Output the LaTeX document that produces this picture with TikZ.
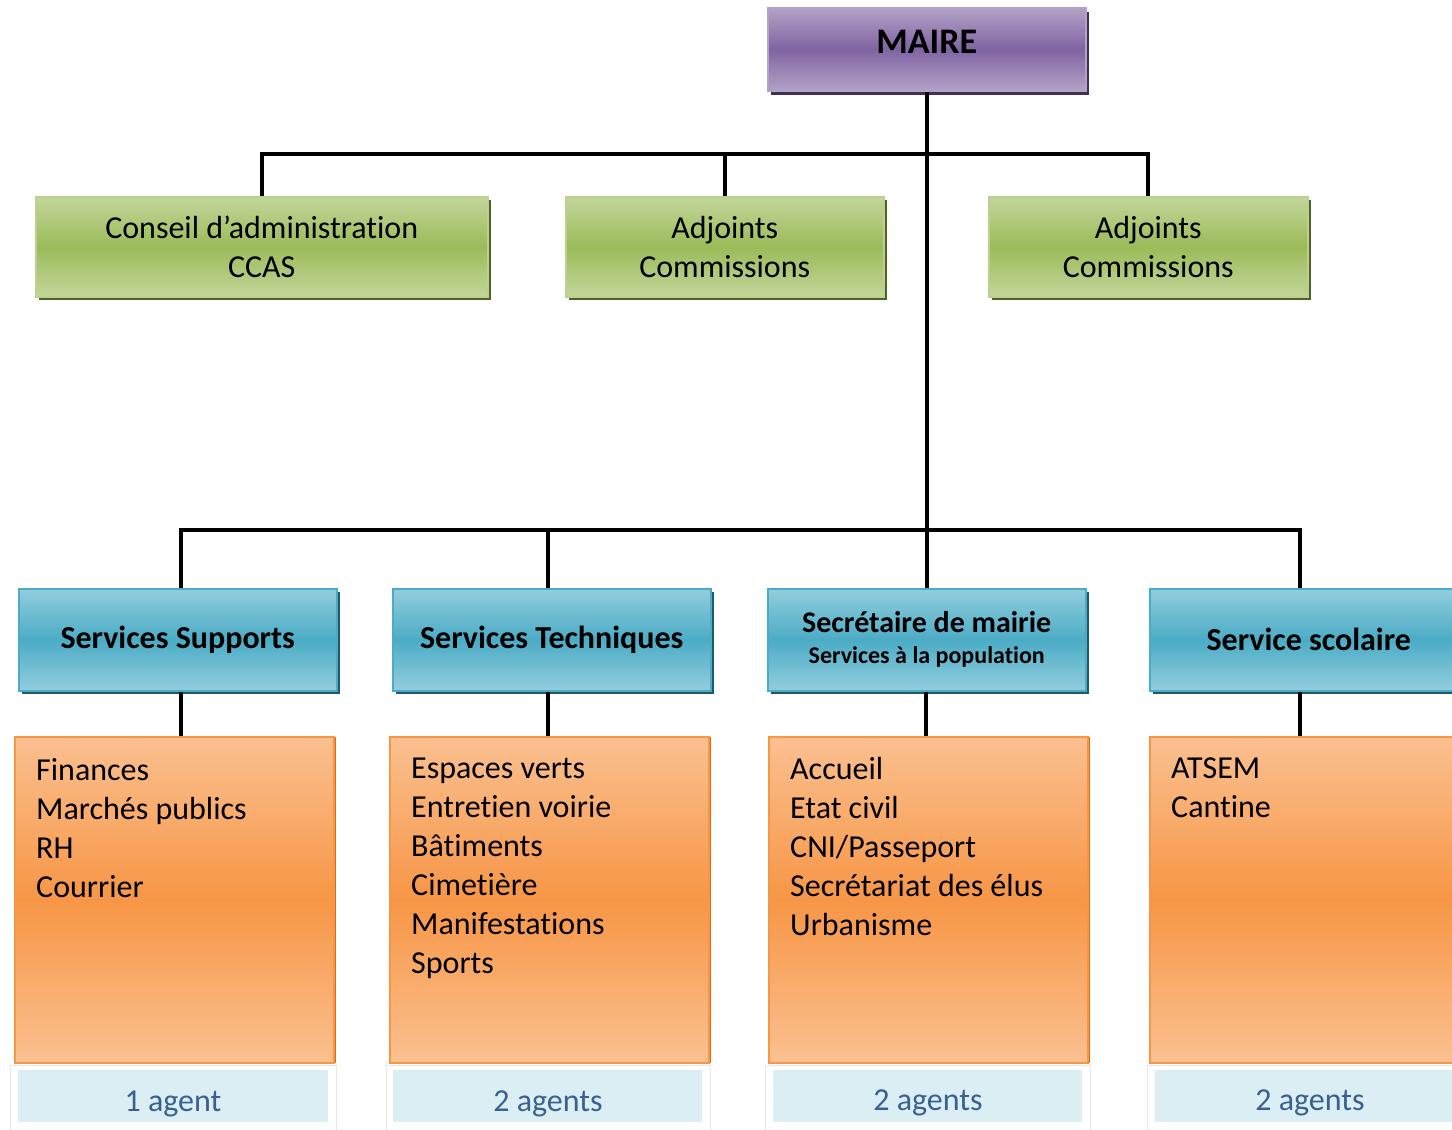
\documentclass[tikz,border=0pt]{standalone}
\usepackage{fontspec}
\setmainfont{Carlito}[Ligatures=NoCommon]
\usetikzlibrary{shadows}
\definecolor{maireclair}{HTML}{B3A2C7}
\definecolor{mairefonce}{HTML}{8064A2}
\definecolor{maireombre}{HTML}{3F3151}
\definecolor{eluclair}{HTML}{C3D69B}
\definecolor{elufonce}{HTML}{9BBB59}
\definecolor{eluombre}{HTML}{4F6228}
\definecolor{servclair}{HTML}{93CDDD}
\definecolor{servfonce}{HTML}{4BACC6}
\definecolor{servombre}{HTML}{215968}
\definecolor{misclair}{HTML}{FAC090}
\definecolor{misfonce}{HTML}{F79646}
\definecolor{misombre}{HTML}{E46C0A}
\definecolor{agentfond}{HTML}{DAEEF3}
\definecolor{agenttexte}{HTML}{3A6090}
\definecolor{panneau}{HTML}{E8E8E8}

\begin{document}
\begin{tikzpicture}[x=1pt,y=-1pt]
\tikzstyle{every node}=[font=\fontsize{32}{39}\selectfont]
\tikzstyle{boite}=[anchor=north west,inner sep=0pt,line width=1.5pt,align=center]
\tikzstyle{boss}=[boite,draw=maireclair,top color=maireclair,bottom color=maireclair,middle color=mairefonce,minimum width=318pt,minimum height=83pt,text depth=14pt,font=\fontsize{36}{40}\selectfont\bfseries,drop shadow={shadow xshift=3pt,shadow yshift=-4pt,fill=maireombre,opacity=1}]
\tikzstyle{elu}=[boite,draw=eluclair!80!elufonce,top color=eluclair,bottom color=eluclair,middle color=elufonce,minimum width=318pt,minimum height=100pt,drop shadow={shadow xshift=3pt,shadow yshift=-3pt,fill=eluombre,opacity=1}]
\tikzstyle{serv}=[boite,draw=servfonce,top color=servclair,bottom color=servclair,middle color=servfonce,minimum width=318pt,minimum height=102pt,font=\fontsize{32}{39}\selectfont\bfseries,drop shadow={shadow xshift=3pt,shadow yshift=-3pt,fill=servombre,opacity=1}]
\tikzstyle{missions}=[boite,draw=misfonce,top color=misclair,bottom color=misclair,middle color=misfonce,minimum width=319pt,minimum height=326pt,drop shadow={shadow xshift=2pt,shadow yshift=0pt,fill=misombre,opacity=1}]
\tikzstyle{liste}=[anchor=north west,inner sep=0pt,align=left]
\tikzstyle{panel}=[anchor=north west,draw=panneau,fill=white,line width=1pt,minimum width=326pt,minimum height=90pt]
\tikzstyle{agent}=[anchor=north west,fill=agentfond,minimum width=310pt,minimum height=52pt]
\tikzstyle{nombre}=[anchor=base,inner sep=0pt,text=agenttexte]
\tikzstyle{lien}=[line width=4pt,line join=miter]
\useasboundingbox (0,0) rectangle (1452,1130);
\clip (0,0) rectangle (1452,1130);

\node[boss] (maire) at (767,7) {MAIRE};

\node[elu,minimum width=452pt] (conseil) at (35,196) {Conseil d’administration\\CCAS};
\node[elu] (adj1) at (565,196) {Adjoints\\Commissions};
\node[elu,minimum width=319pt] (adj2) at (988,196) {Adjoints\\Commissions};

\node[serv] (supports) at (18,588) {Services Supports};
\node[serv] (techniques) at (392,588) {Services Techniques};
\node[serv,font=\fontsize{24}{31}\selectfont\bfseries] (secretaire) at (767,588) {{\fontsize{30}{31}\selectfont Secrétaire de mairie}\\Services à la population};
\node[serv] (scolaire) at (1149,588) {Service scolaire};

\node[missions] (mis1) at (14,736) {};
\node[missions] (mis2) at (389,736) {};
\node[missions] (mis3) at (768,736) {};
\node[missions] (mis4) at (1149,736) {};

\node[liste] (liste1) at (36,758) {Finances\\Marchés publics\\RH\\Courrier};
\node[liste] (liste2) at (411,758) {Espaces verts\\Entretien voirie\\Bâtiments\\Cimetière\\Manifestations\\Sports};
\node[liste] (liste3) at (790,757) {Accueil\\Etat civil\\CNI/Passeport\\Secrétariat des élus\\Urbanisme};
\node[liste] (liste4) at (1171,758) {ATSEM\\Cantine};

\node[panel] (pan1) at (10,1065) {};
\node[panel,minimum width=324pt] (pan2) at (386,1065) {};
\node[panel,minimum width=325pt] (pan3) at (765,1065) {};
\node[panel,minimum width=310pt] (pan4) at (1147,1065) {};
\node[agent] (ag1) at (18,1070) {};
\node[agent,minimum width=309pt] (ag2) at (393,1070) {};
\node[agent,minimum width=309pt] (ag3) at (773,1070) {};
\node[agent,minimum width=300pt] (ag4) at (1155,1070) {};
\begin{scope}
\clip (ag1.north west) rectangle (ag1.south east);
\node[nombre] (nb1) at (173,1111) {1 agent};
\end{scope}
\begin{scope}
\clip (ag2.north west) rectangle (ag2.south east);
\node[nombre] (nb2) at (548,1111) {2 agents};
\end{scope}
\begin{scope}
\clip (ag3.north west) rectangle (ag3.south east);
\node[nombre] (nb3) at (928,1110) {2 agents};
\end{scope}
\begin{scope}
\clip (ag4.north west) rectangle (ag4.south east);
\node[nombre] (nb4) at (1310,1110) {2 agents};
\end{scope}

\coordinate (haut) at (926,154);
\coordinate (b1) at (181,530);
\coordinate (b2) at (548,530);
\coordinate (b3) at (926,530);
\coordinate (b4) at (1300,530);
\draw[lien] (conseil.north) -- (conseil.north |- haut) -- (adj2.north |- haut) -- (adj2.north);
\draw[lien] (adj1.north) -- (adj1.north |- haut);
\draw[lien] (maire.south) -- (secretaire.north);
\draw[lien] (supports.north -| b1) -- (b1) -- (b4) -- (scolaire.north -| b4);
\draw[lien] (b2) -- (techniques.north -| b2);
\draw[lien] (supports.south -| b1) -- (mis1.north -| b1);
\draw[lien] (techniques.south -| b2) -- (mis2.north -| b2);
\draw[lien] (secretaire.south -| b3) -- (mis3.north -| b3);
\draw[lien] (scolaire.south -| b4) -- (mis4.north -| b4);
\end{tikzpicture}
\end{document}
